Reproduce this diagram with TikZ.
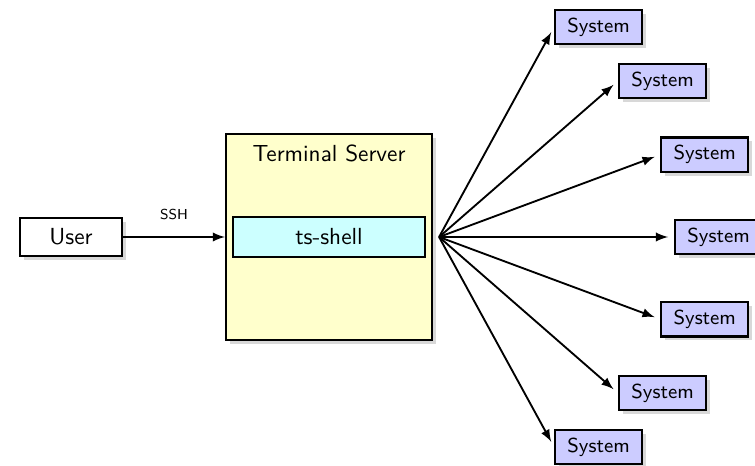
\documentclass[tikz,border=0pt]{standalone}
\usepackage{tikz}
\usetikzlibrary{calc}
\usetikzlibrary{positioning}
\usetikzlibrary{arrows}
\usetikzlibrary{shadows}
\definecolor{srvyellow}{RGB}{255,255,204}
\definecolor{shellcyan}{RGB}{204,255,255}
\definecolor{syslilac}{RGB}{204,204,255}

\begin{document}
\begin{tikzpicture}[x=0.43pt,y=0.43pt,>=latex,font=\sffamily,
  plain/.style={draw,line width=0.9pt,inner sep=0pt},
  box/.style={plain,fill=white,drop shadow={shadow xshift=1.7pt,shadow yshift=-1.7pt,fill=black!30}},
  sys/.style={box,fill=syslilac,minimum width=37.4pt,minimum height=14.8pt,anchor=west,font=\sffamily\fontsize{8.7}{10}\selectfont},
  link/.style={->,line width=0.8pt},
  fan/.style={link,shorten >=2.6pt}]

\useasboundingbox (0,0) rectangle (755,465);

\node[box,minimum width=43.9pt,minimum height=16.3pt] (user) at (71,228) {User};
\node[box,fill=srvyellow,minimum width=88.6pt,minimum height=88.6pt] (server) at (329,228) {};
\node (srvtitle) at ($(server.north)+(0,-21)$) {Terminal Server};
\node[plain,fill=shellcyan,minimum width=82.6pt,minimum height=17.2pt] (shell) at (server.center) {ts-shell};

\draw[link] (user) -- node[above,yshift=3.5pt,font=\sffamily\fontsize{6.2}{7}\selectfont] (ssh) {SSH} (server);

\coordinate (hub) at ($(server.east)+(6,0)$);

\node[sys] (s1) at ($(hub)+(61.3:239.5)$) {System};
\node[sys] (s2) at ($(hub)+(41.1:237.5)$) {System};
\node[sys] (s3) at ($(hub)+(20.4:236)$) {System};
\node[sys] (s4) at ($(hub)+(0:235)$) {System};
\node[sys] (s5) at ($(hub)+(-20.4:236)$) {System};
\node[sys] (s6) at ($(hub)+(-41.1:237.5)$) {System};
\node[sys] (s7) at ($(hub)+(-61.3:239.5)$) {System};

\draw[fan] (hub) -- (s1.west);
\draw[fan] (hub) -- (s2.west);
\draw[fan] (hub) -- (s3.west);
\draw[fan] (hub) -- (s4.west);
\draw[fan] (hub) -- (s5.west);
\draw[fan] (hub) -- (s6.west);
\draw[fan] (hub) -- (s7.west);
\end{tikzpicture}
\end{document}
